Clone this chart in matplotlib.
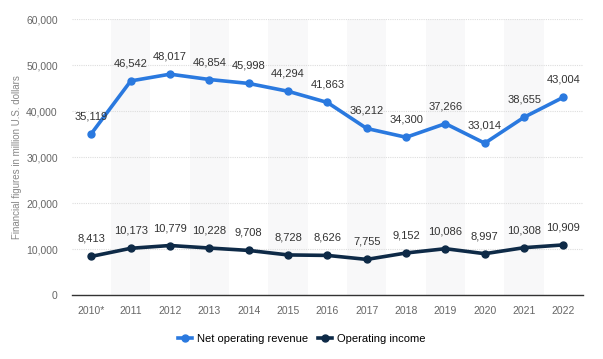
import matplotlib.pyplot as plt

plt.rcParams['font.family'] = ['Liberation Sans', 'DejaVu Sans']

years = ["2010*", "2011", "2012", "2013", "2014", "2015", "2016",
         "2017", "2018", "2019", "2020", "2021", "2022"]
revenue = [35119, 46542, 48017, 46854, 45998, 44294, 41863,
           36212, 34300, 37266, 33014, 38655, 43004]
income = [8413, 10173, 10779, 10228, 9708, 8728, 8626,
          7755, 9152, 10086, 8997, 10308, 10909]

BLUE = "#2a79df"
NAVY = "#0e2a47"


def main():
    fig = plt.figure(figsize=(6.03, 3.59), dpi=100)
    ax = fig.add_axes([0.119, 0.178, 0.848, 0.769])
    x = list(range(len(years)))

    # alternating column shading
    for i in x:
        if i % 2 == 1:
            ax.axvspan(i - 0.5, i + 0.5, color="#f8f8f9", zorder=0, lw=0)

    ax.plot(x, revenue, color=BLUE, lw=2.6, marker="o", ms=5,
            label="Net operating revenue", zorder=3)
    ax.plot(x, income, color=NAVY, lw=2.6, marker="o", ms=5,
            label="Operating income", zorder=3)

    for i in x:
        ax.annotate(f"{revenue[i]:,}", (i, revenue[i]), xytext=(0, 9),
                    textcoords="offset points", ha="center", va="bottom",
                    fontsize=8, color="#333333")
        ax.annotate(f"{income[i]:,}", (i, income[i]), xytext=(0, 9),
                    textcoords="offset points", ha="center", va="bottom",
                    fontsize=8, color="#333333")

    ax.set_xlim(-0.5, len(years) - 0.5)
    ax.set_ylim(0, 60000)
    ax.set_yticks(range(0, 60001, 10000))
    ax.set_yticklabels([f"{v:,}" for v in range(0, 60001, 10000)])
    ax.set_xticks(x)
    ax.set_xticklabels(years)
    ax.tick_params(axis="both", length=0, labelsize=7.5, labelcolor="#666666")
    ax.tick_params(axis="y", pad=10)
    ax.tick_params(axis="x", pad=8)

    ax.grid(axis="y", color="#dddddd", lw=0.8, ls=(0, (1, 1)))
    ax.set_axisbelow(True)
    for s in ["top", "right", "left"]:
        ax.spines[s].set_visible(False)
    ax.spines["bottom"].set_color("#333333")
    ax.spines["bottom"].set_linewidth(1)

    ax.set_ylabel("Financial figures in million U.S. dollars", fontsize=7,
                  color="#888888")
    ax.yaxis.set_label_coords(-0.098, 0.5)

    fig.legend(loc="lower center", bbox_to_anchor=(0.5, 0.015), ncol=2,
               frameon=False, fontsize=8, handlelength=1.3,
               columnspacing=0.9, handletextpad=0.4)

    plt.savefig("out.png", dpi=100)


if __name__ == '__main__':
    main()
